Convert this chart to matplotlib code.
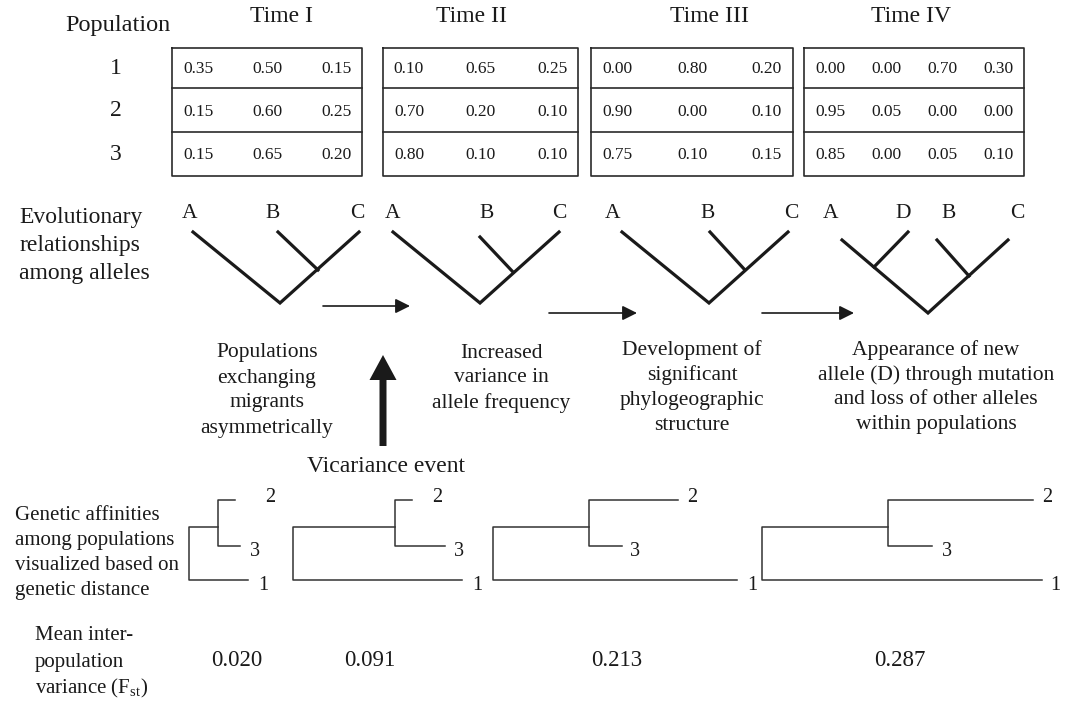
import matplotlib.pyplot as plt

plt.rcParams['font.family'] = ['Liberation Serif', 'DejaVu Serif']
plt.rcParams['mathtext.fontset'] = 'custom'
plt.rcParams['mathtext.rm'] = 'Liberation Serif'

INK = '#1a1a1a'

# allele frequencies per time step (rows = populations 1, 2, 3)
times = ['Time I', 'Time II', 'Time III', 'Time IV']
populations = ['1', '2', '3']
freq_I = [[0.35, 0.50, 0.15], [0.15, 0.60, 0.25], [0.15, 0.65, 0.20]]
freq_II = [[0.10, 0.65, 0.25], [0.70, 0.20, 0.10], [0.80, 0.10, 0.10]]
freq_III = [[0.00, 0.80, 0.20], [0.90, 0.00, 0.10], [0.75, 0.10, 0.15]]
freq_IV = [[0.00, 0.00, 0.70, 0.30], [0.95, 0.05, 0.00, 0.00], [0.85, 0.00, 0.05, 0.10]]
tables = [freq_I, freq_II, freq_III, freq_IV]

# mean inter-population variance
fst = ['0.020', '0.091', '0.213', '0.287']

# text captions under each allele tree
captions = [
    ['Populations', 'exchanging', 'migrants', 'asymmetrically'],
    ['Increased', 'variance in', 'allele frequency'],
    ['Development of', 'significant', 'phylogeographic', 'structure'],
    ['Appearance of new', 'allele (D) through mutation', 'and loss of other alleles', 'within populations'],
]

# allele trees: outer V (left tip, root, right tip), side branches (tip -> join), tip labels
allele_trees = [
    {'v': [(193, 232), (280, 303), (359, 232)],
     'side': [((278, 232), (318, 270))],
     'labels': [('A', 190), ('B', 273), ('C', 357)]},
    {'v': [(393, 232), (480, 303), (559, 232)],
     'side': [((480, 237), (513, 272))],
     'labels': [('A', 393), ('B', 487), ('C', 559)]},
    {'v': [(622, 232), (709, 303), (788, 232)],
     'side': [((710, 232), (745, 270))],
     'labels': [('A', 613), ('B', 708), ('C', 791)]},
    {'v': [(842, 240), (928, 313), (1008, 240)],
     'side': [((908, 232), (874, 267)), ((937, 240), (969, 276))],
     'labels': [('A', 831), ('D', 903), ('B', 949), ('C', 1017)]},
]

# population dendrograms: root x, inner node x, branch ends for pops 2, 3, 1
pop_trees = [
    {'root': 189, 'inner': 218, 'end2': 235, 'end3': 240, 'end1': 248, 'lab': (270, 255, 263)},
    {'root': 293, 'inner': 395, 'end2': 412, 'end3': 445, 'end1': 462, 'lab': (437, 459, 477)},
    {'root': 493, 'inner': 589, 'end2': 678, 'end3': 622, 'end1': 737, 'lab': (692, 635, 752)},
    {'root': 762, 'inner': 888, 'end2': 1033, 'end3': 932, 'end1': 1042, 'lab': (1047, 947, 1055)},
]

# layout (pixels)
time_x = [282, 471, 710, 911]
box_left = [172, 383, 591, 804]
box_right = [362, 578, 793, 1024]
box_top, box_bottom = 48, 176
row_y = [68, 111, 154]
caption_x = [267, 501, 692, 936]
caption_y0 = [353, 353, 350, 350]
fst_x = [237, 370, 617, 900]

fig = plt.figure(figsize=(10.66, 7.02), dpi=100)
ax = fig.add_axes([0, 0, 1, 1])
ax.set_xlim(0, 1066)
ax.set_ylim(702, 0)
ax.axis('off')

# header row
ax.text(118, 26, 'Population', fontsize=17.5, ha='center', va='center', color=INK)
for t, x in zip(times, time_x):
    ax.text(x, 17, t, fontsize=17, ha='center', va='center', color=INK)
for p, y in zip(populations, row_y):
    ax.text(116, y, p, fontsize=17, ha='center', va='center', color=INK)

# frequency tables
for tab, l, r in zip(tables, box_left, box_right):
    ax.plot([l, r, r, l, l], [box_top, box_top, box_bottom, box_bottom, box_top],
            color='#2a2a2a', lw=1.2)
    for yd in [88, 132]:
        ax.plot([l, r], [yd, yd], color='#2a2a2a', lw=1.2)
    n = len(tab[0])
    pad = 26
    step = (r - l - 2 * pad) / (n - 1)
    for i, row in enumerate(tab):
        for j, v in enumerate(row):
            ax.text(l + pad + j * step, row_y[i] + 1, f'{v:.2f}', fontsize=12.5,
                    ha='center', va='center', color=INK)

# allele trees
for k, s in enumerate(['Evolutionary', 'relationships', 'among alleles']):
    ax.text(19, 217 + 28 * k, s, fontsize=17, ha='left', va='center', color=INK)
for tr in allele_trees:
    xs = [p[0] for p in tr['v']]
    ys = [p[1] for p in tr['v']]
    ax.plot(xs, ys, color=INK, lw=2.3, solid_joinstyle='miter')
    for tip, join in tr['side']:
        ax.plot([tip[0], join[0]], [tip[1], join[1]], color=INK, lw=2.3)
    for lab, x in tr['labels']:
        ax.text(x, 214, lab, fontsize=15.5, ha='center', va='center', color=INK)

# time arrows
for x0, x1, y in [(323, 410, 306), (549, 637, 313), (762, 854, 313)]:
    ax.annotate('', xy=(x1, y), xytext=(x0, y),
                arrowprops=dict(arrowstyle='-|>', color=INK, lw=1.2, mutation_scale=22,
                                shrinkA=0, shrinkB=0))

# vicariance arrow
ax.arrow(383, 446, 0, -91, width=7, head_width=27, head_length=25,
         length_includes_head=True, color=INK, lw=0)
ax.text(386, 466, 'Vicariance event', fontsize=17, ha='center', va='center', color=INK)

# captions
for lines, x, y0 in zip(captions, caption_x, caption_y0):
    for k, s in enumerate(lines):
        ax.text(x, y0 + 25 * k, s, fontsize=15.5, ha='center', va='center', color=INK)

# population dendrograms
for k, s in enumerate(['Genetic affinities', 'among populations',
                       'visualized based on', 'genetic distance']):
    ax.text(15, 515 + 25 * k, s, fontsize=15, ha='left', va='center', color=INK)
y2, y3, ytop, y1 = 500, 546, 527, 580
for tr in pop_trees:
    r, m = tr['root'], tr['inner']
    kw = dict(color='#333333', lw=1.1)
    ax.plot([tr['end1'], r, r, m], [y1, y1, ytop, ytop], **kw)
    ax.plot([tr['end2'], m, m, tr['end3']], [y2, y2, y3, y3], **kw)
    lx2, lx3, lx1 = tr['lab']
    ax.text(lx2, 497, '2', fontsize=14.5, ha='center', va='center', color=INK)
    ax.text(lx3, 552, '3', fontsize=14.5, ha='center', va='center', color=INK)
    ax.text(lx1, 585, '1', fontsize=14.5, ha='center', va='center', color=INK)

# Fst row
for k, s in enumerate(['Mean inter-', 'population', r'variance (F$_{\mathrm{st}}$)']):
    ax.text(35, 636 + 26 * k, s, fontsize=15, ha='left', va='center', color=INK)
for s, x in zip(fst, fst_x):
    ax.text(x, 660, s, fontsize=16.5, ha='center', va='center', color=INK)

fig.savefig('out.png', dpi=100)
